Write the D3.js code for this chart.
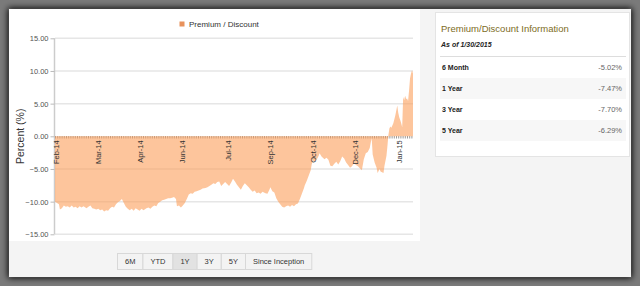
<!DOCTYPE html>
<html><head><meta charset="utf-8">
<script src="https://cdn.jsdelivr.net/npm/d3@7"></script>
<style>html,body{margin:0;padding:0;background:#fff;overflow:hidden}svg{display:block;font-family:"Liberation Sans",Arial,Helvetica,sans-serif}</style>
</head><body><svg id="c" width="640" height="286"></svg>
<script>
const startDate = "2014-01-31";
const seriesName = "Premium / Discount";
// day offsets from startDate
const days = [0,2,4,5,7,9,11,13,15,17,19,21,23,25,27,29,32,34,36,38,40,42,44,46,48,50,52,54,56,58,
60,62,64,66,68,70,72,74,76,78,80,82,84,86,88,90,93,95,97,99,101,103,105,107,109,111,113,115,117,119,
121,123,124,126,128,130,132,134,136,138,140,142,144,146,148,150,153,155,157,159,161,163,165,167,169,171,173,175,177,179,
181,183,185,187,189,191,193,195,197,199,201,203,205,207,209,211,214,216,218,219,221,223,225,227,229,231,233,235,237,239,
241,243,245,247,249,251,253,254,256,258,260,261,262,264,266,268,269,271,274,276,278,280,282,284,286,288,290,292,294,296,
298,300,302,304,306,308,310,312,314,316,318,320,321,322,323,325,327,328,330,331,334,335,337,338,339,340,341,342,344,346,
348,349,350,351,352,353,354,355,356,357,358,359,360,361,362,363,364];
const values = [-10.0,-10.2,-10.4,-11.2,-11.0,-10.6,-10.8,-10.7,-10.9,-10.6,-10.9,-10.8,-11.0,-10.7,-10.9,-10.7,-11.0,-10.8,-10.6,-11.0,-11.1,-11.2,-11.1,-11.3,-11.2,-11.5,-11.3,-11.4,-11.0,-10.8,
-10.9,-10.4,-10.1,-9.9,-9.6,-10.2,-10.8,-11.1,-11.3,-11.1,-11.4,-11.0,-11.2,-11.4,-11.1,-11.3,-11.0,-10.9,-11.1,-10.8,-10.6,-10.7,-10.2,-10.0,-9.8,-9.7,-9.6,-9.5,-9.5,-9.4,
-9.3,-9.6,-10.7,-10.6,-10.9,-10.6,-10.2,-9.6,-8.9,-8.7,-8.8,-8.5,-8.4,-8.3,-8.2,-8.0,-7.9,-7.8,-7.6,-7.4,-7.2,-7.3,-7.0,-6.9,-7.6,-7.3,-7.0,-7.3,-7.6,-7.1,
-6.5,-6.9,-7.4,-7.8,-8.2,-7.6,-7.2,-7.5,-7.8,-8.2,-8.5,-8.3,-8.7,-8.6,-8.8,-8.5,-8.7,-8.8,-8.2,-7.8,-8.4,-8.6,-9.5,-10.0,-10.4,-10.8,-10.9,-10.7,-10.6,-10.8,
-10.5,-10.7,-10.4,-10.3,-9.6,-8.8,-8.0,-7.5,-6.8,-6.0,-5.2,-4.3,-3.7,-3.8,-3.6,-3.0,-2.6,-3.1,-3.5,-3.3,-3.6,-4.5,-4.6,-4.2,-3.9,-4.3,-3.8,-3.1,-3.4,-4.0,
-4.4,-4.8,-4.6,-4.1,-4.4,-4.6,-4.9,-5.2,-3.5,-2.6,-2.4,-1.8,-1.0,-0.3,-2.8,-4.0,-4.8,-5.6,-5.0,-5.4,-5.6,-4.5,-3.0,-1.5,0.2,1.2,1.5,1.3,2.0,3.2,
4.7,3.6,2.9,2.5,2.0,1.4,6.0,5.5,6.2,5.7,5.8,5.4,7.0,8.9,9.6,10.1,9.6];
const tickDays = [2,44,87,130,176,219,263,306,350];
const tickLabels = ["Feb-14","Mar-14","Apr-14","Jun-14","Jul-14","Sep-14","Oct-14","Dec-14","Jan-15"];
const yTicks = [15,10,5,0,-5,-10,-15];
const panelTitle = "Premium/Discount Information";
const asOf = "As of 1/30/2015";
const periods = ["6 Month","1 Year","3 Year","5 Year"];
const periodValues = ["-5.02%","-7.47%","-7.70%","-6.29%"];
const buttons = ["6M","YTD","1Y","3Y","5Y","Since Inception"];
const selectedButton = "1Y";

const svg = d3.select("#c");
const defs = svg.append("defs");
const f = defs.append("filter").attr("id","sh").attr("x","-10%").attr("y","-10%").attr("width","120%").attr("height","120%");
f.append("feGaussianBlur").attr("stdDeviation",3);

// frame
svg.append("rect").attr("width",640).attr("height",286).attr("fill","#7a7a7a");
svg.append("rect").attr("x",8).attr("y",8).attr("width",624).attr("height",270).attr("fill","#111").attr("filter","url(#sh)");
svg.append("rect").attr("x",9).attr("y",9).attr("width",622).attr("height",268).attr("fill","#f4f4f4");
svg.append("rect").attr("x",9).attr("y",9).attr("width",411).attr("height",232).attr("fill","#ffffff");

const parse = d3.timeParse("%Y-%m-%d");
const t0 = parse(startDate);
const data = days.map((d,i)=>({date:d3.timeDay.offset(t0,d), v:values[i]}));

const x = d3.scaleTime().domain([t0, d3.timeDay.offset(t0,364)]).range([55,413]);
const y = d3.scaleLinear().domain([-15,15]).range([234.3,38.3]);

// grid
svg.append("g").selectAll("line").data(yTicks.filter(v=>v!==0)).join("line")
  .attr("x1",55).attr("x2",413).attr("y1",d=>y(d)).attr("y2",d=>y(d))
  .attr("stroke","#e6e6e6").attr("stroke-width",1.5);

// y axis
const yAxis = d3.axisLeft(y).tickValues(yTicks).tickFormat(d3.format(".2f")).tickSize(4).tickPadding(2);
const ga = svg.append("g").attr("transform","translate(54.5,0)").call(yAxis);
ga.select(".domain").attr("stroke","#cccccc").attr("stroke-width",1.5).attr("d","M0,38.3V234.3");
ga.selectAll(".tick line").attr("stroke","#bbbbbb");
ga.selectAll("text").attr("fill","#555").style("font-size","7.5px").style("font-family","Liberation Sans, Arial, sans-serif");

svg.append("text").attr("transform",`translate(24,${y(0)}) rotate(-90)`).attr("text-anchor","middle")
  .attr("fill","#333").style("font-size","10.5px").text("Percent (%)");

// zero axis with minor ticks
svg.append("line").attr("x1",55).attr("x2",413).attr("y1",y(0)+1).attr("y2",y(0)+1)
  .attr("stroke","#9a9a9a").attr("stroke-width",2.5).attr("stroke-dasharray","1,1.2");

// area
const area = d3.area().x(d=>x(d.date)).y0(y(0)).y1(d=>y(d.v));
svg.append("path").datum(data).attr("d",area).attr("fill","#fb9e5a").attr("fill-opacity",0.6);

// x labels
svg.append("g").selectAll("text").data(tickDays).join("text")
  .attr("transform",(d)=>`translate(${x(d3.timeDay.offset(t0,d))+2.5},${y(0)+4}) rotate(-90)`)
  .attr("text-anchor","end").attr("fill","#333").style("font-size","7.5px")
  .text((d,i)=>tickLabels[i]);

// legend
svg.append("rect").attr("x",179.5).attr("y",21.5).attr("width",5).attr("height",5).attr("fill","#e8925c");
svg.append("text").attr("x",189).attr("y",26.5).attr("fill","#333").style("font-size","8px").text(seriesName);

// buttons
const bg = svg.append("g");
let bx = 117;
buttons.forEach(b=>{
  const t = bg.append("text").attr("y",264).attr("fill","#333").style("font-size","7.5px").text(b);
  const w = t.node().getComputedTextLength()+15;
  bg.insert("rect","text").attr("x",bx+0.5).attr("y",253.5).attr("width",w).attr("height",16)
    .attr("fill", b===selectedButton ? "#e2e2e2" : "#f3f3f3").attr("stroke","#d8d8d8").attr("stroke-width",1);
  t.attr("x",bx+0.5+w/2).attr("text-anchor","middle");
  bx += w;
});

// right panel
const p = svg.append("g");
p.append("rect").attr("x",435.5).attr("y",12.5).attr("width",194).attr("height",144).attr("fill","#fff").attr("stroke","#e4e4e4");
p.append("text").attr("x",441).attr("y",32).attr("fill","#7d6c24").style("font-size","9.5px").text(panelTitle);
p.append("text").attr("x",441).attr("y",47).attr("fill","#222").style("font-size","7px").style("font-weight","bold").style("font-style","italic").text(asOf);
p.append("line").attr("x1",440).attr("x2",626).attr("y1",56.5).attr("y2",56.5).attr("stroke","#dddddd");
periods.forEach((name,i)=>{
  const top = 57 + i*21;
  if (i%2===1) p.append("rect").attr("x",440).attr("y",top).attr("width",186).attr("height",21).attr("fill","#f7f7f7");
  p.append("text").attr("x",442).attr("y",top+12.5).attr("fill","#222").style("font-size","7px").style("font-weight","bold").text(name);
  p.append("text").attr("x",622).attr("y",top+12.5).attr("text-anchor","end").attr("fill","#666").style("font-size","7.5px").text(periodValues[i]);
});
</script></body></html>
